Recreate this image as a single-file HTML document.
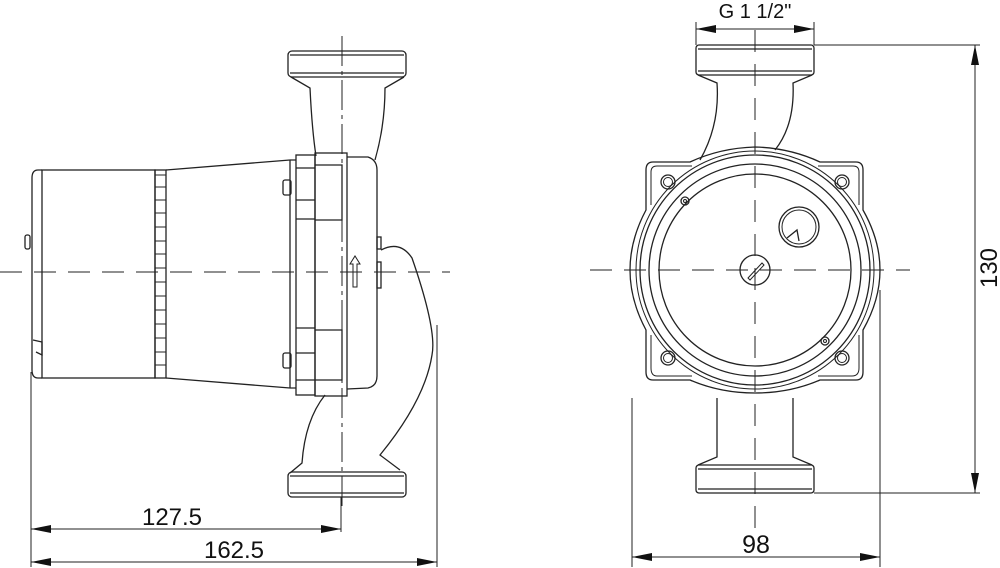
<!DOCTYPE html>
<html><head><meta charset="utf-8"><style>
html,body{margin:0;padding:0;background:#fff;}
svg{display:block;}
text{font-family:"Liberation Sans",sans-serif;fill:#111;}
</style></head><body>
<svg width="1000" height="568" viewBox="0 0 1000 568" xmlns="http://www.w3.org/2000/svg">
<defs>
<marker id="a" viewBox="0 0 20 8" refX="20" refY="4" markerWidth="20" markerHeight="8" markerUnits="userSpaceOnUse" orient="auto-start-reverse"><path d="M0,0 L20,4 L0,8 Z" fill="#111"/></marker>
</defs>
<g fill="none" stroke="#222" stroke-width="1.3">
<line x1="0" y1="272" x2="450" y2="272" stroke-dasharray="22,12" stroke-width="1"/>
<line x1="342" y1="36" x2="342" y2="510" stroke-dasharray="30,5,4,5" stroke-width="1"/>
<rect x="288" y="51" width="118" height="26" rx="4"/>
<line x1="290" y1="55" x2="404" y2="55"/><line x1="290" y1="73" x2="404" y2="73"/>
<path d="M291,77 L310,88 Q312,130 316,156"/>
<path d="M404,77 L385,88 Q385,125 375,160"/>
<path d="M42,170 L38,170 Q32,170 32,178 L32,370 Q32,378 38,378 L42,378"/>
<rect x="42" y="170" width="113" height="208"/>
<rect x="25" y="235" width="5" height="14" rx="2"/>
<path d="M33,340 L42,342 L42,355 L36,352"/>
<rect x="155" y="170" width="11" height="208"/>
<g stroke-width="1">
<line x1="155" y1="175" x2="166" y2="175"/><line x1="155" y1="187" x2="166" y2="187"/><line x1="155" y1="200" x2="166" y2="200"/><line x1="155" y1="213" x2="166" y2="213"/><line x1="155" y1="227" x2="166" y2="227"/><line x1="155" y1="241" x2="166" y2="241"/><line x1="155" y1="254" x2="166" y2="254"/><line x1="155" y1="268" x2="166" y2="268"/><line x1="155" y1="282" x2="166" y2="282"/><line x1="155" y1="296" x2="166" y2="296"/><line x1="155" y1="310" x2="166" y2="310"/><line x1="155" y1="324" x2="166" y2="324"/><line x1="155" y1="338" x2="166" y2="338"/><line x1="155" y1="352" x2="166" y2="352"/><line x1="155" y1="365" x2="166" y2="365"/>
</g>
<path d="M166,170 L290,160 M166,378 L290,388"/>
<path d="M290,160 L290,388 M290,160 L296,160 M290,388 L296,388"/>
<rect x="296" y="155" width="19" height="240"/>
<rect x="315" y="153" width="32" height="243"/>
<path d="M315,165 L342,165 L342,220 L315,220 M315,330 L342,330 L342,380 L315,380"/>
<path d="M296,168 L315,168 M296,200 L315,200 M296,219 L315,219 M296,328 L315,328 M296,353 L315,353 M296,380 L315,380"/>
<rect x="283" y="180" width="8" height="15" rx="2"/>
<rect x="283" y="353" width="8" height="15" rx="2"/>
<path d="M347,157 L368,157 Q377,160 377,170 L377,376 Q377,386 368,388 L347,389"/>
<rect x="377" y="237" width="4" height="12"/>
<rect x="377" y="262" width="4" height="26"/>
<path d="M353,287 L353,264 L350,264 L355,256 L360,264 L357,264 L357,287 Z" stroke-width="1"/>
<path d="M381,250 Q400,240 412,258 Q437,330 432,355 Q425,400 380,455 L400,470"/>
<path d="M325,395 Q305,420 302,463 L290,473"/>
<rect x="288" y="472" width="118" height="25" rx="4"/>
<line x1="290" y1="476" x2="404" y2="476"/><line x1="290" y1="493" x2="404" y2="493"/>
<line x1="31" y1="372" x2="31" y2="567" stroke-width="1"/>
<line x1="341" y1="497" x2="341" y2="532" stroke-width="1"/>
<line x1="437" y1="325" x2="437" y2="567" stroke-width="1"/>
<line x1="31" y1="529" x2="341" y2="529" stroke-width="1" marker-start="url(#a)" marker-end="url(#a)"/>
<line x1="31" y1="562" x2="437" y2="562" stroke-width="1" marker-start="url(#a)" marker-end="url(#a)"/>

<line x1="590" y1="270" x2="910" y2="270" stroke-dasharray="22,12" stroke-width="1"/>
<line x1="755" y1="30" x2="755" y2="540" stroke-dasharray="22,12" stroke-width="1"/>
<rect x="696" y="45" width="118" height="30" rx="3"/>
<line x1="698" y1="49" x2="812" y2="49"/><line x1="698" y1="71" x2="812" y2="71"/>
<path d="M698,75 L717,83 Q720,125 700,160"/>
<path d="M812,75 L793,83 Q795,125 775,150"/>
<path d="M653,162 L690,162 Q720,148 755,147 Q790,148 820,162 L856,162 Q863,162 863,170 L863,210 Q880,240 880,270 Q880,300 863,330 L863,372 Q863,380 856,380 L820,380 Q790,393 755,393 Q720,393 690,380 L653,380 Q646,380 646,372 L646,330 Q630,300 630,270 Q630,240 646,210 L646,170 Q646,162 653,162 Z"/>
<path d="M657,166 L692,166 M818,166 L853,166 Q859,166 859,172 L859,205 M859,335 L859,368 Q859,376 852,376 L818,376 M692,376 L657,376 Q651,376 651,368 L651,335 M651,205 L651,172 Q651,166 657,166" stroke-width="1"/>
<circle cx="755" cy="270" r="119" stroke-width="1"/>
<circle cx="755" cy="270" r="115"/>
<circle cx="755" cy="270" r="106"/>
<circle cx="755" cy="270" r="96"/>
<circle cx="668" cy="182" r="7"/><circle cx="668" cy="182" r="4.5" stroke-width="1"/>
<circle cx="842" cy="182" r="7"/><circle cx="842" cy="182" r="4.5" stroke-width="1"/>
<circle cx="668" cy="358" r="7"/><circle cx="668" cy="358" r="4.5" stroke-width="1"/>
<circle cx="842" cy="358" r="7"/><circle cx="842" cy="358" r="4.5" stroke-width="1"/>
<circle cx="685" cy="201" r="4"/><circle cx="685" cy="201" r="1.5" stroke-width="1"/>
<circle cx="825" cy="341" r="4"/><circle cx="825" cy="341" r="1.5" stroke-width="1"/>
<circle cx="799" cy="227" r="20"/><circle cx="799" cy="227" r="17" stroke-width="1"/>
<path d="M787,238 L797,230 L799,241"/>
<circle cx="755" cy="270" r="15"/>
<path d="M748,278 L762,263 L764,265 L750,280 Z" stroke-width="1"/>
<path d="M717,398 L717,457 L698,465 M793,398 L793,457 L812,465"/>
<rect x="696" y="465" width="118" height="28" rx="3"/>
<line x1="698" y1="469" x2="812" y2="469"/><line x1="698" y1="489" x2="812" y2="489"/>
<line x1="696" y1="22" x2="696" y2="45" stroke-width="1"/>
<line x1="814" y1="22" x2="814" y2="45" stroke-width="1"/>
<line x1="696" y1="29" x2="814" y2="29" stroke-width="1" marker-start="url(#a)" marker-end="url(#a)"/>
<line x1="814" y1="45" x2="980" y2="45" stroke-width="1"/>
<line x1="814" y1="493" x2="980" y2="493" stroke-width="1"/>
<line x1="975" y1="45" x2="975" y2="493" stroke-width="1" marker-start="url(#a)" marker-end="url(#a)"/>
<line x1="632" y1="398" x2="632" y2="567" stroke-width="1"/>
<line x1="880" y1="290" x2="880" y2="567" stroke-width="1"/>
<line x1="632" y1="557" x2="880" y2="557" stroke-width="1" marker-start="url(#a)" marker-end="url(#a)"/>
</g>
<text x="172" y="525" font-size="24" text-anchor="middle">127.5</text>
<text x="234" y="558" font-size="24" text-anchor="middle">162.5</text>
<text x="755" y="18" font-size="20" text-anchor="middle">G 1 1/2"</text>
<text x="756" y="553" font-size="25" text-anchor="middle">98</text>
<text transform="translate(997,268) rotate(-90)" font-size="24" text-anchor="middle">130</text>
</svg>
</body></html>
